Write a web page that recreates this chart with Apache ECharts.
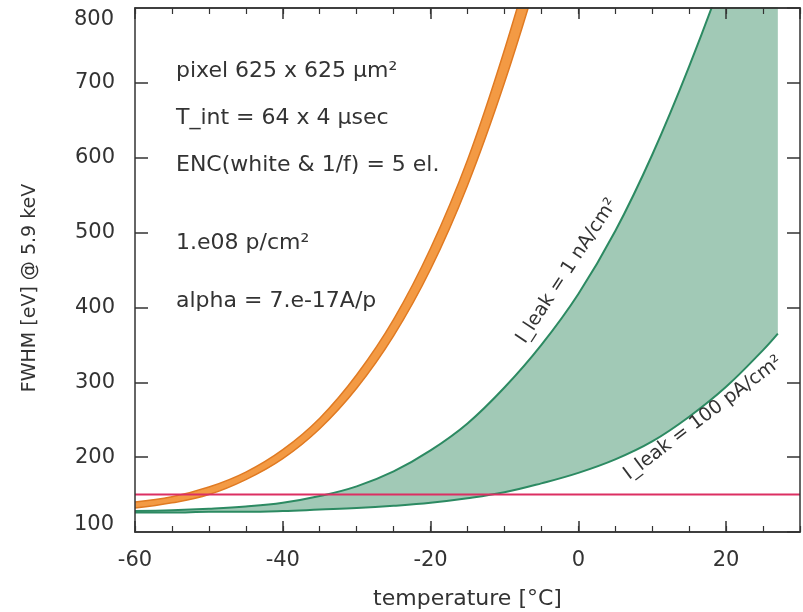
<!DOCTYPE html>
<html><head><meta charset="utf-8">
<script src="https://cdn.jsdelivr.net/npm/echarts@6/dist/echarts.min.js"></script>
<style>html,body{margin:0;padding:0;background:#fff}#c{width:803px;height:612px}</style>
</head><body><div id="c"></div>
<script>
// ---- data ----
const orangeT    = [-60,-55,-50,-45,-40,-35,-30,-25,-20,-15,-10,-5];
const orangeLow  = [132,139,150,170,198,238,292,362,451,563,700,859];
const orangeHigh = [140,147,160,180,210,252,310,384,479,597,744,913];
const greenT     = [-60,-55,-50,-45,-40,-35,-30,-25,-20,-15,-10,-5,0,5,10,15,20,25,27];
const leak100pA  = [126,126,127,127,128,130,132,135,139,145,153,165,179,197,221,254,294,343,365];
const leak1nA    = [128,129,131,134,139,148,161,181,209,245,293,350,418,502,604,722,854,1003,1066];
const limitT     = [-60,30];
const limitLevel = [150,150];
const yMin = 100, yMax = 800;
const notes = ['pixel 625 x 625 µm²','T_int = 64 x 4 µsec','ENC(white & 1/f) = 5 el.','1.e08 p/cm²','alpha = 7.e-17A/p'];
const curveLabels = ['I_leak = 1 nA/cm²','I_leak = 100 pA/cm²'];

const FONT = 'DejaVu Sans, Verdana, sans-serif';
const AX = '#333';
// rows are [value, temperature] so that stacking acts on the value dimension
const rows = (xs, ys) => xs.map((x,i)=>[ys[i], x]);
const diffRows = (xs, hi, lo) => xs.map((x,i)=>[hi[i]-lo[i], x]);
const ENC = {x:1, y:0};

const chart = echarts.init(document.getElementById('c'), null, {renderer:'canvas'});
const xBase = {type:'value', min:-60, max:30, splitLine:{show:false}, z:20,
  axisLine:{show:true, onZero:false, lineStyle:{color:AX, width:1.5}}, axisLabel:{show:false}};
const yBase = {type:'value', min:yMin, max:yMax, interval:100, splitLine:{show:false}, z:20,
  axisLine:{show:true, onZero:false, lineStyle:{color:AX,width:1.5}},
  axisTick:{show:true, inside:true, length:13, lineStyle:{color:AX,width:1.5}}};
const SM = 0.4;
chart.setOption({
  animation:false,
  backgroundColor:'#fff',
  grid:{left:135, right:3, top:8, bottom:80, containLabel:false, outerBoundsMode:'none'},
  xAxis:[
    Object.assign({}, xBase, {position:'bottom', interval:20,
      axisTick:{show:true, inside:true, length:11, lineStyle:{color:AX,width:1.5}},
      axisLabel:{show:true, color:AX, fontSize:21, fontFamily:FONT, margin:18, showMaxLabel:false},
      name:'temperature [°C]', nameLocation:'middle', nameGap:56,
      nameTextStyle:{color:AX, fontSize:22, fontFamily:FONT}}),
    Object.assign({}, xBase, {position:'bottom', interval:5,
      axisTick:{show:true, inside:true, length:6, lineStyle:{color:AX,width:1.2}}}),
    Object.assign({}, xBase, {position:'top', interval:20,
      axisTick:{show:true, inside:true, length:11, lineStyle:{color:AX,width:1.5}}}),
    Object.assign({}, xBase, {position:'top', interval:5,
      axisTick:{show:true, inside:true, length:6, lineStyle:{color:AX,width:1.2}}})
  ],
  yAxis:[
    Object.assign({}, yBase, {position:'left',
      axisLabel:{color:AX, fontSize:21, fontFamily:FONT, margin:20, showMinLabel:false, showMaxLabel:false}}),
    Object.assign({}, yBase, {position:'right', axisLabel:{show:false}})
  ],
  series:[
    // green band between 100 pA/cm2 and 1 nA/cm2
    {type:'line', data:rows(greenT, leak100pA), encode:ENC, stack:'green', smooth:SM, showSymbol:false, z:3,
     lineStyle:{color:'#2c8a62', width:2}},
    {type:'line', data:diffRows(greenT, leak1nA, leak100pA), encode:ENC, stack:'green', smooth:SM, showSymbol:false, z:3,
     lineStyle:{color:'#2c8a62', width:2}, areaStyle:{color:'#a1c9b6', opacity:1}},
    // orange band
    {type:'line', data:rows(orangeT, orangeLow), encode:ENC, stack:'orange', smooth:SM, showSymbol:false, z:4,
     lineStyle:{color:'#e07a22', width:1.5}},
    {type:'line', data:diffRows(orangeT, orangeHigh, orangeLow), encode:ENC, stack:'orange', smooth:SM, showSymbol:false, z:4,
     lineStyle:{color:'#e07a22', width:1.5}, areaStyle:{color:'#f39a44', opacity:1}},
    // limit line
    {type:'line', data:rows(limitT, limitLevel), encode:ENC, showSymbol:false, z:6,
     lineStyle:{color:'#dc2f62', width:2}}
  ],
  graphic:[
    ...notes.map((t,i)=>({type:'text', x:176, y:[71,118,165,243,301][i], z:10,
      style:{text:t, font:'22px '+FONT, fill:AX, verticalAlign:'middle', align:'left'}})),
    // end labels of the value axis, nudged inside the picture as in the reference
    {type:'text', x:114, y:20, z:10,
      style:{text:String(yMax), font:'21px '+FONT, fill:AX, align:'right', verticalAlign:'middle'}},
    {type:'text', x:114, y:525, z:10,
      style:{text:String(yMin), font:'21px '+FONT, fill:AX, align:'right', verticalAlign:'middle'}},
    {type:'text', x:30, y:288, rotation:Math.PI/2, z:10,
      style:{text:'FWHM [eV] @ 5.9 keV', font:'19px '+FONT, fill:AX, align:'center', verticalAlign:'middle'}},
    {type:'text', x:567, y:271, rotation:56.8*Math.PI/180, z:10,
      style:{text:curveLabels[0], font:'19px '+FONT, fill:AX, align:'center', verticalAlign:'middle'}},
    {type:'text', x:703, y:418, rotation:37*Math.PI/180, z:10,
      style:{text:curveLabels[1], font:'19px '+FONT, fill:AX, align:'center', verticalAlign:'middle'}}
  ]
});
</script></body></html>
